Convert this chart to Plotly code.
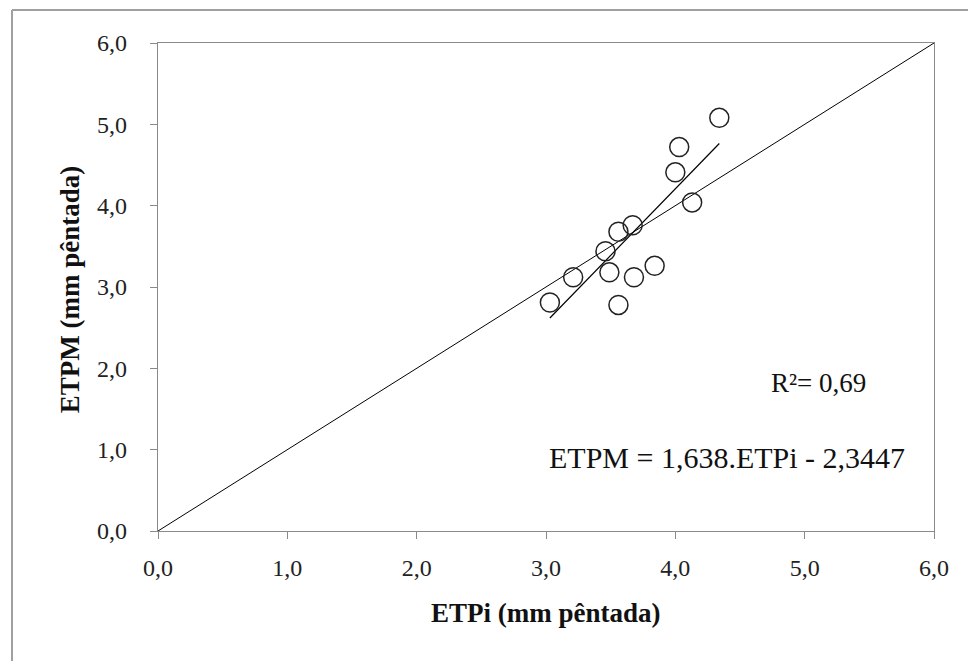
import plotly.graph_objects as go

# Data
etpi = [4.34, 4.03, 4.00, 4.13, 3.67, 3.56, 3.46, 3.49, 3.21, 3.03, 3.68, 3.84, 3.56]
etpm = [5.08, 4.72, 4.41, 4.04, 3.76, 3.68, 3.44, 3.18, 3.12, 2.81, 3.12, 3.26, 2.78]
slope = 1.638
intercept = -2.3447
r2_text = "R²= 0,69"
eq_text = "ETPM = 1,638.ETPi - 2,3447"
one_to_one = [0.0, 6.0]
tick_vals = [0, 1, 2, 3, 4, 5, 6]

xmin, xmax = min(etpi), max(etpi)
trend_x = [xmin, xmax]
trend_y = [slope * v + intercept for v in trend_x]

fig = go.Figure()
fig.add_trace(go.Scatter(x=one_to_one, y=one_to_one, mode="lines",
                         line=dict(color="black", width=1), showlegend=False))
fig.add_trace(go.Scatter(x=trend_x, y=trend_y, mode="lines",
                         line=dict(color="black", width=1.2), showlegend=False))
fig.add_trace(go.Scatter(x=etpi, y=etpm, mode="markers",
                         marker=dict(symbol="circle-open", size=19, color="#222",
                                     line=dict(width=1.5, color="#222")),
                         showlegend=False))

serif = "Liberation Serif"
axis_common = dict(range=[0, 6], tickvals=tick_vals, tickformat=".1f",
                   showgrid=False, zeroline=False, showline=True, mirror=True,
                   linecolor="#8a8a8a", linewidth=1.2, ticks="outside",
                   ticklen=7, tickcolor="#8a8a8a", tickwidth=1.2,
                   tickfont=dict(family=serif, size=24, color="#222"))

fig.update_xaxes(**axis_common, ticklabelstandoff=8)
fig.update_yaxes(**axis_common, ticklabelstandoff=18)

# plot area in page pixels: x 158..934, y 43..531 (page has an 8px body margin)
fig.update_layout(
    width=976, height=661,
    margin=dict(l=150, r=50, t=35, b=138),
    paper_bgcolor="white", plot_bgcolor="white",
    separators=",.",
    annotations=[
        dict(text="<b>ETPi (mm pêntada)</b>", xref="paper", yref="paper",
             x=0.5, y=-0.168, showarrow=False, xanchor="center", yanchor="middle",
             font=dict(family=serif, size=27, color="#111")),
        dict(text="<b>ETPM (mm pêntada)</b>", xref="paper", yref="paper",
             x=-0.113, y=0.494, showarrow=False, textangle=-90,
             xanchor="center", yanchor="middle",
             font=dict(family=serif, size=27, color="#111")),
        dict(text=r2_text, xref="x", yref="y", x=5.49, y=1.82, showarrow=False,
             xanchor="right", yanchor="middle",
             font=dict(family=serif, size=27, color="#111")),
        dict(text=eq_text, xref="x", yref="y", x=5.79, y=0.90, showarrow=False,
             xanchor="right", yanchor="middle",
             font=dict(family=serif, size=30, color="#111")),
    ],
    shapes=[
        dict(type="line", xref="paper", yref="paper",
             x0=(4 - 150) / 776, x1=(4 - 150) / 776,
             y0=(523 - 2) / 488, y1=(523 - 700) / 488,
             line=dict(color="#a0a0a0", width=2)),
        dict(type="line", xref="paper", yref="paper",
             x0=(4 - 150) / 776, x1=(1000 - 150) / 776,
             y0=(523 - 2) / 488, y1=(523 - 2) / 488,
             line=dict(color="#a0a0a0", width=2)),
    ],
)

fig.write_html("out.html")
